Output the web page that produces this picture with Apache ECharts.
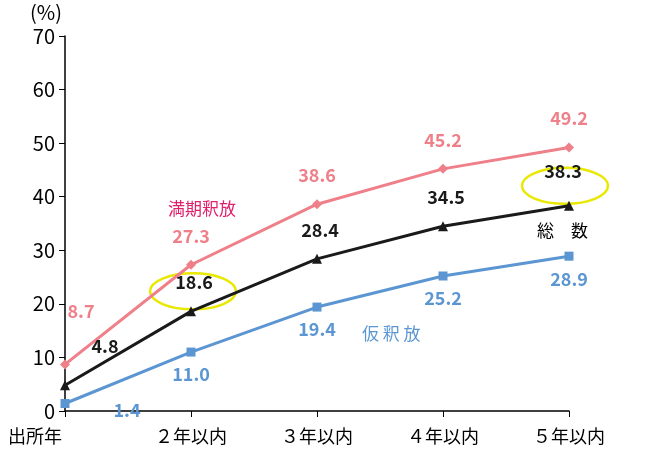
<!DOCTYPE html><html><head><meta charset="utf-8"><script src="https://cdn.jsdelivr.net/npm/echarts@6/dist/echarts.min.js"></script></head><body style="margin:0"><div id="c" style="width:650px;height:456px"></div><script>
const categories=['出所年','２年以内','３年以内','４年以内','５年以内'];
const mankiValues=[8.7,27.3,38.6,45.2,49.2];
const totalValues=[4.8,18.6,28.4,34.5,38.3];
const karishakuValues=[1.4,11.0,19.4,25.2,28.9];
const F='"Noto Sans CJK JP","Noto Sans",sans-serif';
const ch=echarts.init(document.getElementById('c'));
const lbl=(color,pos)=>({show:true,position:pos,distance:9,color:color,fontSize:18,fontWeight:'bold',fontFamily:F,formatter:p=>p.value.toFixed(1)});
ch.setOption({animation:false,
grid:{left:65,right:81,top:36,bottom:45},
xAxis:{type:'category',data:categories.map((c,i)=>i===0?{value:c,textStyle:{padding:[0,60,0,0]}}:c),boundaryGap:false,axisLine:{lineStyle:{color:'#000',width:1.5}},axisTick:{alignWithLabel:true,length:6,lineStyle:{color:'#000'}},axisLabel:{color:'#000',fontSize:18,fontFamily:F,margin:16}},
yAxis:{type:'value',min:0,max:70,interval:10,axisLine:{show:true,lineStyle:{color:'#000',width:1.5}},axisTick:{show:true,length:6,lineStyle:{color:'#000'}},splitLine:{show:false},axisLabel:{color:'#000',fontSize:20,fontFamily:F,margin:10}},
series:[
{type:'line',data:mankiValues,symbol:'diamond',symbolSize:10,lineStyle:{color:'#ef7f88',width:3},itemStyle:{color:'#ef7f88'},
 label:lbl('#ef7f88','top'),labelLayout:p=>p.dataIndex===0?{dx:16,dy:-30}:{dy:-6}},
{type:'line',data:totalValues,symbol:'triangle',symbolSize:10,lineStyle:{color:'#1a1a1a',width:3},itemStyle:{color:'#1a1a1a'},
 label:lbl('#1a1a1a','top'),labelLayout:p=>p.dataIndex===0?{dx:40,dy:-16}:(p.dataIndex===4?{dx:-6,dy:-12}:{dx:3,dy:-6})},
{type:'line',data:karishakuValues,symbol:'rect',symbolSize:9,lineStyle:{color:'#5b96d2',width:3},itemStyle:{color:'#5b96d2'},
 label:lbl('#5b96d2','bottom'),labelLayout:p=>p.dataIndex===0?{dx:62,dy:-16}:{dy:0}}
]});
const px=(i,v)=>ch.convertToPixel({gridIndex:0},[i,v]);
const e1=px(1,18.6),e2=px(4,38.3);
ch.setOption({graphic:[
{type:'text',left:30,top:2,style:{text:'(%)',font:'20px '+F,fill:'#000'}},
{type:'ellipse',shape:{cx:e1[0]+2,cy:e1[1]-20,rx:43,ry:18},style:{fill:'none',stroke:'#e8e800',lineWidth:2.5}},
{type:'ellipse',shape:{cx:e2[0]-4,cy:e2[1]-20,rx:43,ry:18},style:{fill:'none',stroke:'#e8e800',lineWidth:2.5}},
{type:'text',x:168,y:200,style:{text:'満期釈放',font:'17px '+F,fill:'#e0206a'}},
{type:'text',x:537,y:222,style:{text:'総　数',font:'17px '+F,fill:'#000'}},
{type:'text',x:362,y:325,style:{text:'仮 釈 放',font:'17px '+F,fill:'#5b96d2'}}
]});
</script></body></html>
